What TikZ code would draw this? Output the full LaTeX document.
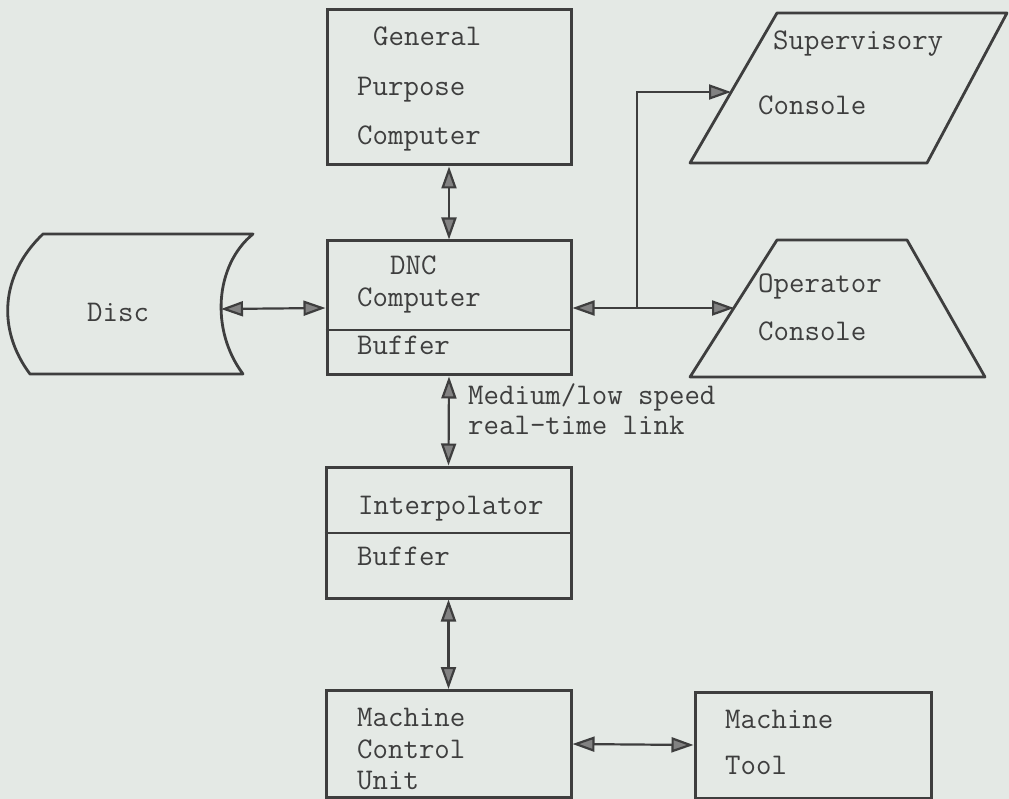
\documentclass[tikz,border=0pt]{standalone}
\usepackage{fontspec}
\usepackage{xcolor}
\usepackage{tikz}
\usetikzlibrary{arrows.meta,positioning,calc}
\definecolor{dncpaper}{RGB}{228,233,229}
\definecolor{dncink}{RGB}{62,62,62}
\definecolor{dnctip}{RGB}{130,130,130}
\tikzset{
  unitbox/.style={draw=dncink,line width=3pt,inner sep=0pt},
  outline/.style={draw=dncink,line width=2.8pt,line join=round},
  typed/.style={anchor=base west,inner sep=0pt,text=dncink,
    font=\ttfamily\fontsize{30}{34}\selectfont},
  wire/.style={draw=dncink,line width=2.2pt},
}

\begin{document}
\begin{tikzpicture}[x=1pt,y=-1pt,>={Triangle[length=22pt,width=15pt,fill=dnctip]}]
\useasboundingbox (0,0) rectangle (1009,799);
\fill[dncpaper] (0,0) rectangle (1009,799);
% computer boxes
\node[unitbox,minimum width=244pt,minimum height=155pt] (gpc) at (449,87.5) {};
\node[unitbox,minimum width=244pt,minimum height=134pt] (dnc) at (449,308) {};
\node[unitbox,minimum width=245pt,minimum height=131pt] (interp) at (448.5,532.5) {};
\node[unitbox,minimum width=245pt,minimum height=107pt] (mcu) at (448.5,744) {};
\node[unitbox,minimum width=236pt,minimum height=106pt] (tool) at (813,745) {};
\draw[outline] (dnc.west |- 0,330) -- (dnc.east |- 0,330);
\draw[outline] (interp.west |- 0,533) -- (interp.east |- 0,533);
% disc and consoles
\draw[outline] (43,234) -- (253,234) .. controls (215,265) and (210,330) .. (243,374)
  -- (30,374) .. controls (-3,330) and (0,275) .. cycle;
\draw[outline] (690,163) -- (777,13) -- (1007,13) -- (927,163) -- cycle;
\draw[outline] (690,377) -- (777,240) -- (907,240) -- (985,377) -- cycle;
\coordinate (discport) at (221,309);
\coordinate (support) at (731,92);
\coordinate (opport) at (734,308);
\coordinate (branch) at (637,308);
% texts
\node[typed] (gpc1) at (373,46) {General};
\node[typed] (gpc2) at (357,96) {Purpose};
\node[typed] (gpc3) at (357,145) {Computer};
\node[typed] (dnc1) at (390,275) {DNC};
\node[typed] (dnc2) at (357,307) {Computer};
\node[typed] (dnc3) at (357,355) {Buffer};
\node[typed] (disc1) at (87,322) {Disc};
\node[typed] (sup1) at (773,50) {Supervisory};
\node[typed] (sup2) at (758,115) {Console};
\node[typed] (op1) at (758,293) {Operator};
\node[typed] (op2) at (758,341) {Console};
\node[typed] (linkA) at (468,404) {Medium/low speed};
\node[typed] (linkB) at (468,434) {real-time link};
\node[typed] (interp1) at (358,514) {Interpolator};
\node[typed] (interp2) at (357,565) {Buffer};
\node[typed] (mcu1) at (357,726) {Machine};
\node[typed] (mcu2) at (357,758) {Control};
\node[typed] (mcu3) at (357,789) {Unit};
\node[typed] (tool1) at (725,728) {Machine};
\node[typed] (tool2) at (725,774) {Tool};
% connectors
\draw[wire,<->] (gpc.south) -- (dnc.north);
\draw[wire,<->] (discport) -- (dnc.west);
\draw[wire,<->] (dnc.east) -- (opport);
\draw[wire,->] (branch) |- (support);
\draw[wire,<->] (dnc.south) -- (interp.north);
\draw[wire,<->] (interp.south) -- (mcu.north);
\draw[wire,<->] (mcu.east) -- (tool.west);
\end{tikzpicture}
\end{document}
